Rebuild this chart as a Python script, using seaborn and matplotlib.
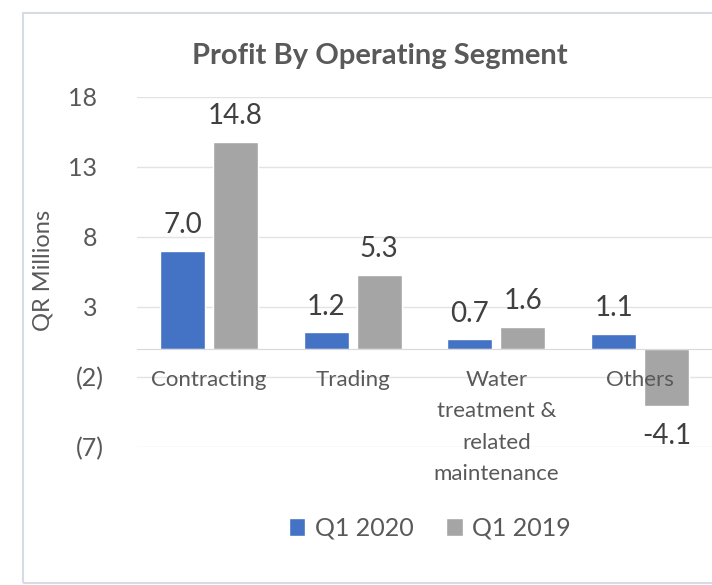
import matplotlib
matplotlib.use("Agg")
import matplotlib.pyplot as plt
import matplotlib.ticker as mticker
from matplotlib.patches import Rectangle
import seaborn as sns
import pandas as pd

segments = ["Contracting", "Trading", "Water\ntreatment &\nrelated\nmaintenance", "Others"]
q1_2020 = [7.0, 1.2, 0.7, 1.1]
q1_2019 = [14.8, 5.3, 1.6, -4.1]
periods = ["Q1 2020", "Q1 2019"]
y_ticks = [-7, -2, 3, 8, 13, 18]

df = pd.DataFrame({
    "segment": segments * 2,
    "profit": q1_2020 + q1_2019,
    "period": [periods[0]] * 4 + [periods[1]] * 4,
})

sns.set_style("white")
plt.rcParams["font.family"] = ["Lato", "DejaVu Sans"]
txt = "#595959"

fig = plt.figure(figsize=(7.12, 5.85), dpi=100)
ax = fig.add_axes([137 / 712, 1 - 447 / 585, 575 / 712, 350 / 585])

sns.barplot(data=df, x="segment", y="profit", hue="period",
            palette=["#4472C4", "#A5A5A5"], width=0.736, gap=0.15,
            saturation=1, ax=ax)

# value labels: positives above, negatives below (a bit more room)
for c in ax.containers:
    vals = c.datavalues
    ax.bar_label(c, labels=[f"{v:.1f}" if v >= 0 else "" for v in vals],
                 padding=9, fontsize=20, color="#404040")
    ax.bar_label(c, labels=[f"{v:.1f}" if v < 0 else "" for v in vals],
                 padding=12, fontsize=20, color="#404040")

ax.set_xlim(-0.5, 3.5)
ax.set_ylim(-7, 18)
ax.set_yticks(y_ticks)
ax.yaxis.set_major_formatter(mticker.FuncFormatter(
    lambda v, p: f"({abs(int(v))})" if v < 0 else f"{int(v)} "))
ax.tick_params(axis="y", length=0, pad=24, labelsize=18, labelcolor=txt)
ax.grid(False)
ax.set_axisbelow(False)  # category labels sit on top of the bars, like the original
for t in y_ticks:
    ax.axhline(t, color="#E3E3E3", lw=1, zorder=0)

for s in ["top", "right", "left"]:
    ax.spines[s].set_visible(False)
ax.spines["bottom"].set_position(("data", 0))
ax.spines["bottom"].set_color("#D9D9D9")
ax.set_xticks([-0.5, 0.5, 1.5, 2.5, 3.5], minor=True)
ax.tick_params(axis="x", which="minor", length=5, color="#D9D9D9", direction="out")
ax.tick_params(axis="x", which="major", length=0, pad=15, labelsize=16, labelcolor=txt)
for lbl in ax.get_xticklabels():
    lbl.set_linespacing(1.72)
    lbl.set_verticalalignment("top")

ax.set_xlabel("")
ax.set_ylabel("")
fig.text(43 / 712, 1 - 270 / 585, "QR Millions", rotation=90, ha="center", va="center",
         fontsize=17, color=txt)

handles, labels = ax.get_legend_handles_labels()
ax.get_legend().remove()
fig.legend(handles, labels, loc="center", bbox_to_anchor=(430 / 712, 1 - 528 / 585),
           ncol=2, frameon=False, fontsize=18, labelcolor=txt,
           handlelength=0.65, handleheight=0.75, handletextpad=0.4, columnspacing=1.3)

fig.text(380 / 712, 1 - 56 / 585, "Profit By Operating Segment", ha="center", va="center",
         fontsize=21, fontweight="bold", color=txt)

fig.patches.append(Rectangle((23 / 712, 1 - 583 / 585), 1.0, 570 / 585,
                             transform=fig.transFigure, fill=False,
                             edgecolor="#D6DCE5", lw=1.5))

fig.savefig("out.png", dpi=100)
